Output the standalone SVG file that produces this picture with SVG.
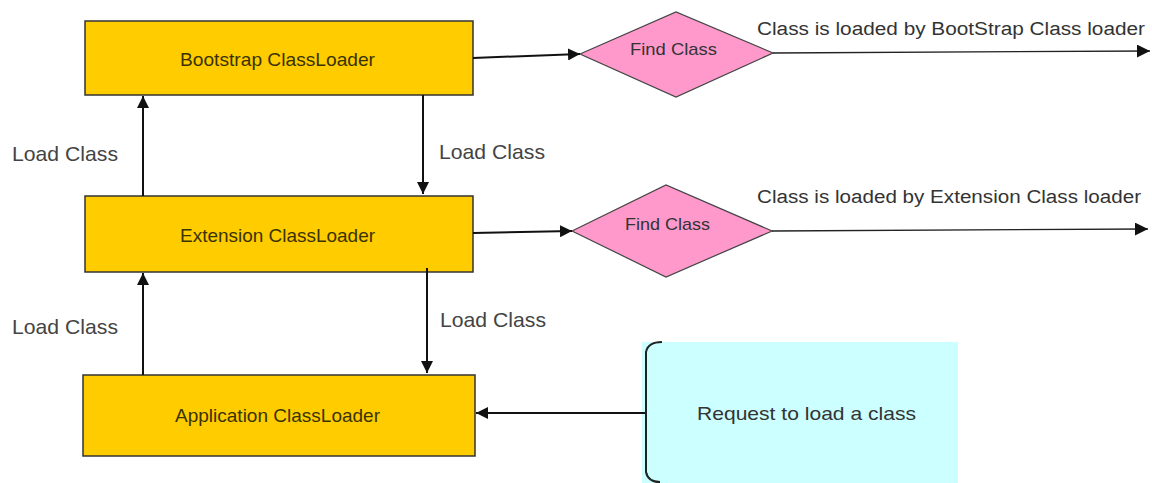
<svg xmlns="http://www.w3.org/2000/svg" width="1152" height="483" viewBox="0 0 1152 483">
<defs>
<marker id="ah" viewBox="0 0 10 10" refX="10" refY="5" markerWidth="6" markerHeight="6" markerUnits="strokeWidth" orient="auto">
<path d="M0,0 L10,5 L0,10 z" fill="#111"/>
</marker>
<marker id="ahs" viewBox="0 0 10 10" refX="10" refY="5" markerWidth="10" markerHeight="10" markerUnits="strokeWidth" orient="auto">
<path d="M0,0 L10,5 L0,10 z" fill="#111"/>
</marker>
</defs>
<style>
.box{fill:#FFCC00;stroke:#333;stroke-width:1.5}
.dia{fill:#FF99CC;stroke:#444;stroke-width:1.2}
.req{fill:#CCFFFF}
.btxt{font-family:"Liberation Sans",Arial,sans-serif;font-size:19px;fill:#3a3300;text-anchor:start}
.lbl{font-family:"Liberation Sans",Arial,sans-serif;font-size:21px;fill:#444}
.ftxt{font-family:"Liberation Sans",Arial,sans-serif;font-size:17px;fill:#333}
.ctxt{font-family:"Liberation Sans",Arial,sans-serif;font-size:18px;fill:#333}
.ln{stroke:#111;stroke-width:2;fill:none;marker-end:url(#ah)}
.ln1{stroke:#222;stroke-width:1.3;fill:none;marker-end:url(#ahs)}
</style>
<rect width="1152" height="483" fill="#fff"/>
<g id="bootstrap">
<rect class="box" x="85" y="21" width="388" height="74"/>
<text class="btxt" x="180" y="66" textLength="195" lengthAdjust="spacingAndGlyphs">Bootstrap ClassLoader</text>
</g>
<g id="extension">
<rect class="box" x="85" y="196" width="388" height="76"/>
<text class="btxt" x="180" y="242" textLength="195" lengthAdjust="spacingAndGlyphs">Extension ClassLoader</text>
</g>
<g id="application">
<rect class="box" x="83" y="375" width="392" height="81"/>
<text class="btxt" x="175" y="422" textLength="205" lengthAdjust="spacingAndGlyphs">Application ClassLoader</text>
</g>
<g id="find1">
<polygon class="dia" points="580,54 676,12 773,53 676,97"/>
<text class="ftxt" x="630" y="55" textLength="87" lengthAdjust="spacingAndGlyphs">Find Class</text>
</g>
<g id="find2">
<polygon class="dia" points="572,231 666,185 772,231 666,277"/>
<text class="ftxt" x="625" y="230" textLength="85" lengthAdjust="spacingAndGlyphs">Find Class</text>
</g>
<g id="request">
<rect class="req" x="642" y="342" width="316" height="141" rx="0"/>
<path d="M662,342 Q648,342 646,352 L646,472 Q648,482 660,482" fill="none" stroke="#222" stroke-width="2"/>
<text class="btxt" x="697" y="420" textLength="219" lengthAdjust="spacingAndGlyphs" style="fill:#333">Request to load a class</text>
</g>
<g id="connectors">
<line class="ln" x1="143" y1="196" x2="143" y2="96"/>
<line class="ln" x1="423" y1="95" x2="423" y2="194"/>
<line class="ln" x1="143" y1="375" x2="143" y2="273"/>
<line class="ln" x1="427" y1="268" x2="427" y2="373"/>
<line class="ln" x1="645" y1="413" x2="476" y2="413"/>
<line class="ln" x1="473" y1="58" x2="580" y2="54"/>
<line class="ln" x1="473" y1="233" x2="572" y2="231"/>
<line class="ln1" x1="773" y1="53" x2="1150" y2="51"/>
<line class="ln1" x1="772" y1="231" x2="1148" y2="229"/>
</g>
<g id="labels">
<text class="lbl" x="12" y="161" textLength="106" lengthAdjust="spacingAndGlyphs">Load Class</text>
<text class="lbl" x="439" y="159" textLength="106" lengthAdjust="spacingAndGlyphs">Load Class</text>
<text class="lbl" x="12" y="334" textLength="106" lengthAdjust="spacingAndGlyphs">Load Class</text>
<text class="lbl" x="440" y="327" textLength="106" lengthAdjust="spacingAndGlyphs">Load Class</text>
<text class="ctxt" x="757" y="35" textLength="388" lengthAdjust="spacingAndGlyphs">Class is loaded by BootStrap Class loader</text>
<text class="ctxt" x="757" y="203" textLength="384" lengthAdjust="spacingAndGlyphs">Class is loaded by Extension Class loader</text>
</g>
</svg>
